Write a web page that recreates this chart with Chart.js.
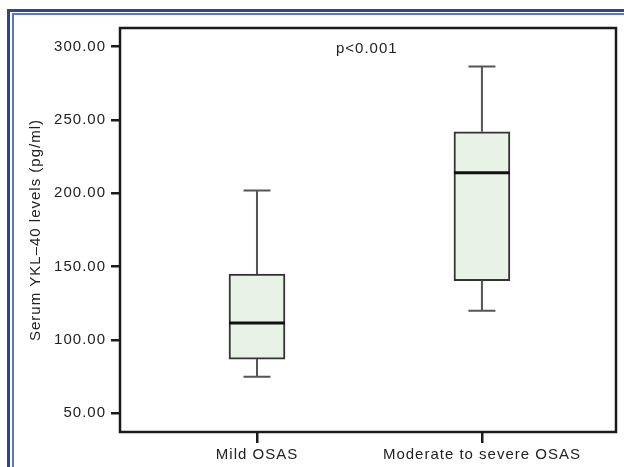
<!DOCTYPE html>
<html lang="en">
<head>
    <meta charset="UTF-8">
    <title>Serum YKL-40 levels by OSAS severity</title>
    <script src="https://cdn.jsdelivr.net/npm/chart.js"></script>
    <style>
        html, body { margin: 0; padding: 0; background: #fff; }
        #wrap { width: 624px; height: 467px; }
    </style>
</head>
<body>
    <div id="wrap"><canvas id="boxPlot" width="624" height="467"></canvas></div>

    <script>
        // Data
        const categories = ['Mild OSAS', 'Moderate to severe OSAS'];
        const positions = [1, 2];
        const mins = [75, 120];
        const q1s = [87, 140.5];
        const medians = [111.5, 214];
        const q3s = [145, 242];
        const maxs = [202, 286.5];
        const yTicks = [50, 100, 150, 200, 250, 300];
        const pText = 'p<0.001';
        const pPos = { x: 1.488, y: 298.5 };

        const FONT = { family: '"Liberation Sans", Arial, sans-serif', size: 15 };

        // white page + blue double rule at top / left
        const framePlugin = {
            id: 'frame',
            beforeDraw(chart) {
                const ctx = chart.ctx;
                ctx.letterSpacing = '1px';
                ctx.save();
                ctx.fillStyle = '#fff';
                ctx.fillRect(0, 0, chart.width, chart.height);
                ctx.fillStyle = '#2a4597';
                ctx.fillRect(7, 9, chart.width - 7, 3);
                ctx.fillRect(7, 9, 3, chart.height - 9);
                ctx.fillStyle = '#5b76c4';
                ctx.fillRect(12, 13, chart.width - 12, 2);
                ctx.fillRect(12, 13, 2, chart.height - 13);
                ctx.restore();
            },
            afterDraw(chart) {
                const { ctx, chartArea: a } = chart;
                ctx.save();
                ctx.strokeStyle = '#1a1a1a';
                ctx.lineWidth = 2.5;
                ctx.strokeRect(a.left, a.top, a.right - a.left, a.bottom - a.top);
                ctx.restore();
            }
        };

        // whiskers, caps, medians and the p value
        const boxPlugin = {
            id: 'boxParts',
            afterDatasetsDraw(chart) {
                const { ctx, scales: { x, y } } = chart;
                const half = 28, cap = 13.5;
                ctx.save();
                positions.forEach((p, i) => {
                    const cx = x.getPixelForValue(p);
                    ctx.strokeStyle = '#555';
                    ctx.lineWidth = 2;
                    ctx.beginPath();
                    ctx.moveTo(cx, y.getPixelForValue(q3s[i]));
                    ctx.lineTo(cx, y.getPixelForValue(maxs[i]));
                    ctx.moveTo(cx, y.getPixelForValue(q1s[i]));
                    ctx.lineTo(cx, y.getPixelForValue(mins[i]));
                    ctx.moveTo(cx - cap, y.getPixelForValue(maxs[i]));
                    ctx.lineTo(cx + cap, y.getPixelForValue(maxs[i]));
                    ctx.moveTo(cx - cap, y.getPixelForValue(mins[i]));
                    ctx.lineTo(cx + cap, y.getPixelForValue(mins[i]));
                    ctx.stroke();

                    ctx.strokeStyle = '#111';
                    ctx.lineWidth = 3;
                    ctx.beginPath();
                    ctx.moveTo(cx - half, y.getPixelForValue(medians[i]));
                    ctx.lineTo(cx + half, y.getPixelForValue(medians[i]));
                    ctx.stroke();
                });
                ctx.fillStyle = '#222';
                ctx.font = FONT.size + 'px ' + FONT.family;
                ctx.textAlign = 'center';
                ctx.textBaseline = 'middle';
                ctx.fillText(pText, x.getPixelForValue(pPos.x), y.getPixelForValue(pPos.y));
                ctx.restore();
            }
        };

        new Chart(document.getElementById('boxPlot'), {
            type: 'bar',
            data: {
                datasets: [{
                    data: positions.map((p, i) => ({ x: p, y: [q1s[i], q3s[i]] })),
                    backgroundColor: '#e9f2e6',
                    borderColor: '#333',
                    borderWidth: 2,
                    borderSkipped: false,
                    barThickness: 56
                }]
            },
            options: {
                responsive: false,
                animation: false,
                layout: { padding: { left: 0, right: 8, top: 28, bottom: 0 } },
                plugins: { legend: { display: false }, tooltip: { enabled: false } },
                scales: {
                    x: {
                        type: 'linear',
                        offset: false,
                        min: 0.391,
                        max: 2.596,
                        afterBuildTicks: s => { s.ticks = positions.map(v => ({ value: v })); },
                        afterFit: s => { s.height = 35; },
                        border: { display: false },
                        grid: { offset: false, drawOnChartArea: false, tickLength: 11, color: '#1a1a1a', lineWidth: 2.5 },
                        ticks: {
                            callback: v => categories[positions.indexOf(v)],
                            font: FONT, color: '#222', padding: 3, maxRotation: 0
                        }
                    },
                    y: {
                        min: 37.25,
                        max: 312.75,
                        afterBuildTicks: s => { s.ticks = yTicks.map(v => ({ value: v })); },
                        afterFit: s => { s.width = 120; },
                        border: { display: false },
                        grid: { drawOnChartArea: false, tickLength: 9, color: '#1a1a1a', lineWidth: 2.5 },
                        ticks: {
                            callback: v => v.toFixed(2),
                            font: FONT, color: '#222', padding: 5
                        },
                        title: {
                            display: true,
                            text: 'Serum YKL\u201340 levels (pg/ml)',
                            font: FONT, color: '#222',
                            padding: { top: 27, bottom: 0 }
                        }
                    }
                }
            },
            plugins: [framePlugin, boxPlugin]
        });
    </script>
</body>
</html>
